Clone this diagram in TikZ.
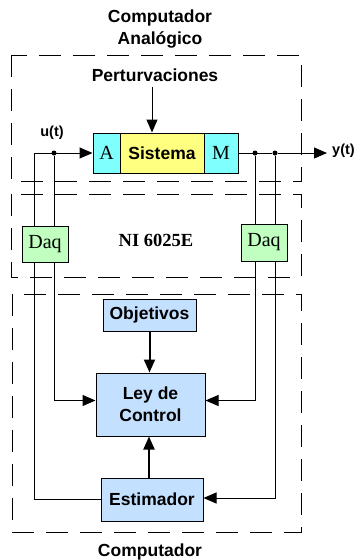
\documentclass[tikz,border=0pt]{standalone}
\usepackage{fontspec}
\setmainfont{Liberation Serif}
\newfontfamily\labfont{Liberation Sans}
\usetikzlibrary{arrows.meta,calc}
\definecolor{cyanbox}{RGB}{128,255,255}
\definecolor{yelbox}{RGB}{255,255,128}
\definecolor{grnbox}{RGB}{192,255,192}
\definecolor{blubox}{RGB}{196,224,255}
\tikzset{
  lab/.style={font=\labfont\bfseries\fontsize{17.5}{22}\selectfont, inner sep=0pt, align=center},
  sig/.style={font=\labfont\bfseries\fontsize{14.5}{16}\selectfont, inner sep=0pt},
  ser/.style={font=\fontsize{20}{22}\selectfont},
  boxA/.style={draw, line width=1pt, inner sep=0pt},
  frame/.style={draw, line width=1pt, dash pattern=on 22pt off 12pt},
  wire/.style={line width=1pt},
  arr/.style={line width=1pt, -{Triangle[length=13pt,width=11pt]}},
  tarr/.style={line width=2pt, -{Triangle[length=13pt,width=11pt]}},
  dot/.style={circle, fill, inner sep=0pt, minimum size=5pt},
}
\begin{document}
\begin{tikzpicture}[x=1pt,y=-1pt]
\useasboundingbox (0,0) rectangle (358,560);
% frames
\draw[frame] (11,55) rectangle (301,181);
\draw[frame] (11,194) rectangle (301,277);
\draw[frame] (12,294) rectangle (301,532);
% titles
\node[lab] (t1) at (160,29) {Computador\\Analógico};
\node[lab] (pert) at (155,75) {Perturvaciones};
\node[lab] (t3) at (150,552) {Computador};
\node[font=\bfseries\fontsize{18.5}{20}\selectfont, inner sep=0pt] (ni) at (156,240) {NI 6025E};
% system blocks
\node[boxA, fill=cyanbox, minimum width=27pt, minimum height=40pt, ser] (A) at (106.5,153) {A};
\node[boxA, fill=yelbox, minimum width=84pt, minimum height=40pt, lab] (sis) at (162,153) {Sistema};
\node[boxA, fill=cyanbox, minimum width=34pt, minimum height=40pt, ser] (M) at (221,153) {M};
% computer blocks
\node[boxA, fill=blubox, minimum width=93pt, minimum height=32pt, lab] (obj) at (149.5,315) {Objetivos};
\node[boxA, fill=blubox, minimum width=109pt, minimum height=63pt, lab] (ley) at (150.5,404.5) {Ley de\\Control};
\node[boxA, fill=blubox, minimum width=102pt, minimum height=43pt, lab] (est) at (152,499.5) {Estimador};
% signal points
\coordinate (u0) at (34,153);
\node[dot] (u1) at (54,153) {};
\node[dot] (y1) at (255,153) {};
\node[dot] (y2) at (275,153) {};
\coordinate (yend) at (327,153);
\coordinate (pa) at (152,87);
\node[sig, anchor=south] (ul) at (52,140) {u(t)};
\node[sig, anchor=west] (yl) at (332,151) {y(t)};
% wires
\draw[arr] (pa) -- (pa |- sis.north);
\draw[arr] (u0) -- (A.west);
\draw[wire] (M.east) -- (y2);
\draw[arr] (y2) -- (yend);
\draw[wire] (u0) |- (est.west);
\draw[arr] (u1) |- ($(ley.west)+(0,-4)$);
\draw[arr] (y1) |- ($(ley.east)+(0,-4)$);
\draw[arr] (y2) |- ($(est.east)+(0,-1.5)$);
\draw[tarr] (obj.south) -- (obj.south |- ley.north);
\draw[tarr] (est.north -| 149,0) -- (149,0 |- ley.south);
% Daq boxes
\node[boxA, fill=grnbox, minimum width=46pt, minimum height=36pt, ser] (daq1) at (45,244) {Daq};
\node[boxA, fill=grnbox, minimum width=46pt, minimum height=37pt, ser] (daq2) at (264,242.5) {Daq};
\end{tikzpicture}
\end{document}
